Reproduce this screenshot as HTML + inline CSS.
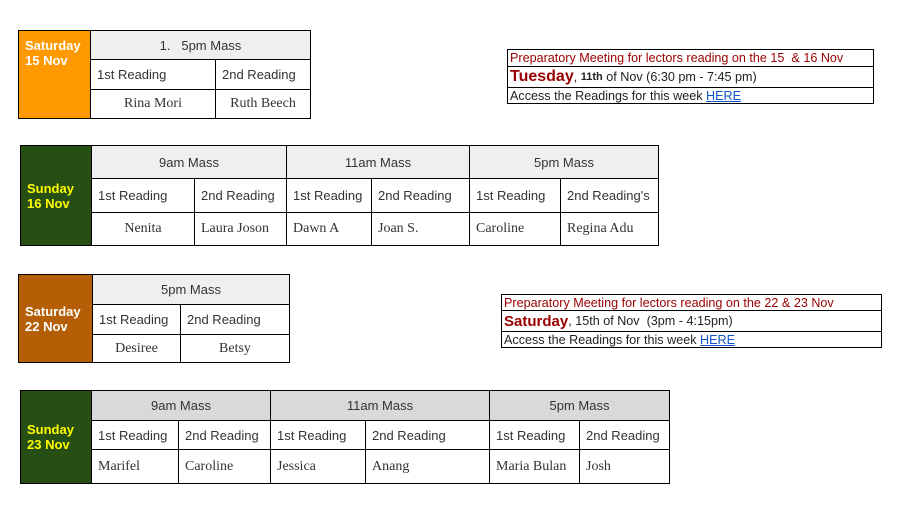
<!DOCTYPE html>
<html><head><meta charset="utf-8"><style>
body{margin:0;width:901px;height:514px;background:#fff;position:relative;overflow:hidden;font-family:"Liberation Sans",sans-serif}
.c{position:absolute;border:1px solid #000;box-sizing:border-box;display:flex;align-items:center;font-size:13px;color:#333;white-space:nowrap;overflow:hidden}
.h{justify-content:center;background:#efefef}
.h4{justify-content:center;background:#d9d9d9}
.r{padding-left:6px}
.n{font-family:"Liberation Serif",serif;font-size:14px;padding-left:6px}
.nc{font-family:"Liberation Serif",serif;font-size:14px;justify-content:center}
.d{font-weight:bold;font-size:13px;line-height:15px;padding-left:6px}
.b{position:absolute;border:1px solid #000;box-sizing:border-box;font-size:12.6px;padding-left:2px;display:flex;align-items:center;white-space:nowrap;color:#222}
.red{color:#990000}
a{color:#1155cc;text-decoration:underline}
</style></head><body>

<!-- Table 1 -->
<div class="c d" style="left:18px;top:30px;width:73px;height:89px;background:#ff9900;color:#fff;align-items:flex-start;padding-top:7px">Saturday<br>15 Nov</div>
<div class="c h" style="left:90px;top:30px;width:221px;height:30px">1.&nbsp;&nbsp; 5pm Mass</div>
<div class="c r" style="left:90px;top:59px;width:126px;height:31px">1st Reading</div>
<div class="c r" style="left:215px;top:59px;width:96px;height:31px">2nd Reading</div>
<div class="c nc" style="left:90px;top:89px;width:126px;height:30px">Rina Mori</div>
<div class="c nc" style="left:215px;top:89px;width:96px;height:30px">Ruth Beech</div>

<!-- Box 1 -->
<div class="b red" style="left:507px;top:49px;width:367px;height:18px">Preparatory Meeting for lectors reading on the 15&nbsp; &amp; 16 Nov</div>
<div class="b" style="left:507px;top:66px;width:367px;height:22px"><span class="red" style="font-size:16px;font-weight:bold">Tuesday</span>,&nbsp;<b style="font-weight:bold;font-size:11px">11th</b>&nbsp;of Nov (6:30 pm - 7:45 pm)</div>
<div class="b" style="left:507px;top:87px;width:367px;height:17px">Access the Readings for this week&nbsp;<a>HERE</a></div>

<!-- Table 2 -->
<div class="c d" style="left:20px;top:145px;width:72px;height:101px;background:#274e13;color:#ffff00">Sunday<br>16 Nov</div>
<div class="c h" style="left:91px;top:145px;width:196px;height:34px">9am Mass</div>
<div class="c h" style="left:286px;top:145px;width:184px;height:34px">11am Mass</div>
<div class="c h" style="left:469px;top:145px;width:190px;height:34px">5pm Mass</div>
<div class="c r" style="left:91px;top:178px;width:104px;height:35px">1st Reading</div>
<div class="c r" style="left:194px;top:178px;width:93px;height:35px">2nd Reading</div>
<div class="c r" style="left:286px;top:178px;width:86px;height:35px">1st Reading</div>
<div class="c r" style="left:371px;top:178px;width:99px;height:35px">2nd Reading</div>
<div class="c r" style="left:469px;top:178px;width:92px;height:35px">1st Reading</div>
<div class="c r" style="left:560px;top:178px;width:99px;height:35px">2nd Reading's</div>
<div class="c nc" style="left:91px;top:212px;width:104px;height:34px">Nenita</div>
<div class="c n" style="left:194px;top:212px;width:93px;height:34px">Laura Joson</div>
<div class="c n" style="left:286px;top:212px;width:86px;height:34px">Dawn A</div>
<div class="c n" style="left:371px;top:212px;width:99px;height:34px">Joan S.</div>
<div class="c n" style="left:469px;top:212px;width:92px;height:34px">Caroline</div>
<div class="c n" style="left:560px;top:212px;width:99px;height:34px">Regina Adu</div>

<!-- Table 3 -->
<div class="c d" style="left:18px;top:274px;width:75px;height:89px;background:#b45f06;color:#fff">Saturday<br>22 Nov</div>
<div class="c h" style="left:92px;top:274px;width:198px;height:31px">5pm Mass</div>
<div class="c r" style="left:92px;top:304px;width:89px;height:31px">1st Reading</div>
<div class="c r" style="left:180px;top:304px;width:110px;height:31px">2nd Reading</div>
<div class="c nc" style="left:92px;top:334px;width:89px;height:29px">Desiree</div>
<div class="c nc" style="left:180px;top:334px;width:110px;height:29px">Betsy</div>

<!-- Box 2 -->
<div class="b red" style="left:501px;top:294px;width:381px;height:17px">Preparatory Meeting for lectors reading on the 22 &amp; 23 Nov</div>
<div class="b" style="left:501px;top:310px;width:381px;height:22px"><span class="red" style="font-size:15px;font-weight:bold">Saturday</span>, 15th of Nov&nbsp; (3pm - 4:15pm)</div>
<div class="b" style="left:501px;top:331px;width:381px;height:17px">Access the Readings for this week&nbsp;<a>HERE</a></div>

<!-- Table 4 -->
<div class="c d" style="left:20px;top:390px;width:72px;height:94px;background:#274e13;color:#ffff00">Sunday<br>23 Nov</div>
<div class="c h4" style="left:91px;top:390px;width:180px;height:31px">9am Mass</div>
<div class="c h4" style="left:270px;top:390px;width:220px;height:31px">11am Mass</div>
<div class="c h4" style="left:489px;top:390px;width:181px;height:31px">5pm Mass</div>
<div class="c r" style="left:91px;top:420px;width:88px;height:30px">1st Reading</div>
<div class="c r" style="left:178px;top:420px;width:93px;height:30px">2nd Reading</div>
<div class="c r" style="left:270px;top:420px;width:96px;height:30px">1st Reading</div>
<div class="c r" style="left:365px;top:420px;width:125px;height:30px">2nd Reading</div>
<div class="c r" style="left:489px;top:420px;width:91px;height:30px">1st Reading</div>
<div class="c r" style="left:579px;top:420px;width:91px;height:30px">2nd Reading</div>
<div class="c n" style="left:91px;top:449px;width:88px;height:35px">Marifel</div>
<div class="c n" style="left:178px;top:449px;width:93px;height:35px">Caroline</div>
<div class="c n" style="left:270px;top:449px;width:96px;height:35px">Jessica</div>
<div class="c n" style="left:365px;top:449px;width:125px;height:35px">Anang</div>
<div class="c n" style="left:489px;top:449px;width:91px;height:35px">Maria Bulan</div>
<div class="c n" style="left:579px;top:449px;width:91px;height:35px">Josh</div>

</body></html>
